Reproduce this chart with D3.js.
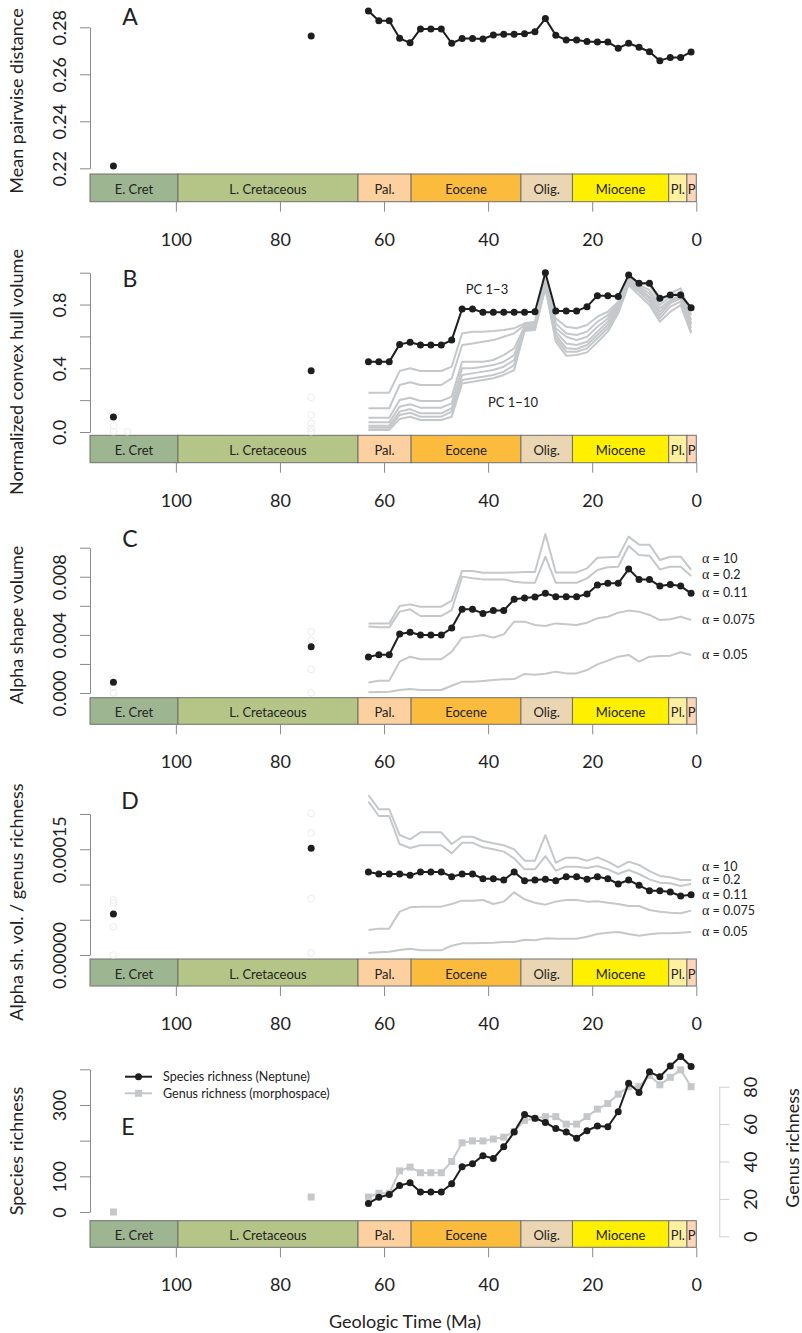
<!DOCTYPE html>
<html><head><meta charset="utf-8">
<script src="https://cdn.jsdelivr.net/npm/d3@7"></script>
<style>
body{margin:0;background:#fff}
text{font-family:Lato,"Open Sans",sans-serif;fill:#222}
</style>
</head><body>
<svg id="c" width="802" height="1333"></svg>
<script>
// ---------- DATA ----------
const ages = [63,61,59,57,55,53,51,49,47,45,43,41,39,37,35,33,31,29,27,25,23,21,19,17,15,13,11,9,7,5,3,1];
const isoAges = [112, 74];

// timescale
const epochNames = ["E. Cret","L. Cretaceous","Pal.","Eocene","Olig.","Miocene","Pl.","P"];
const epochOld   = [116.5, 99.6, 65.0, 54.8, 33.7, 23.8, 5.3, 1.8];
const epochYoung = [99.6, 65.0, 54.8, 33.7, 23.8, 5.3, 1.8, 0];
const epochColors = ["#9db591","#b5c587","#fdd09f","#fbbb3c","#ebd6b3","#fff000","#fff0a0","#fdd5b8"];
const xTicks = [100,80,60,40,20,0];

// A: mean pairwise distance
const mpd = [0.2869,0.2828,0.2828,0.2753,0.2734,0.2793,0.2793,0.2793,0.2732,0.2752,0.2752,0.2750,0.2767,0.2770,0.2770,0.2773,0.2781,0.2837,0.2766,0.2746,0.2746,0.2740,0.2737,0.2737,0.2711,0.2732,0.2715,0.2696,0.2658,0.2672,0.2672,0.2695];
const mpdIso = [0.221, 0.2763];

// B: normalized convex hull volume
const hullPC3 = [0.441,0.441,0.441,0.550,0.563,0.546,0.546,0.546,0.577,0.772,0.772,0.751,0.751,0.751,0.751,0.751,0.755,1.0,0.759,0.759,0.759,0.787,0.856,0.856,0.850,0.986,0.933,0.933,0.839,0.860,0.860,0.780];
const hullPC4 = [0.247,0.247,0.247,0.383,0.400,0.383,0.383,0.383,0.410,0.619,0.630,0.630,0.634,0.640,0.651,0.682,0.692,0.964,0.713,0.661,0.651,0.672,0.724,0.755,0.818,0.985,0.933,0.923,0.818,0.870,0.902,0.734];
const hullPC5 = [0.149,0.149,0.149,0.295,0.312,0.295,0.295,0.295,0.337,0.546,0.556,0.567,0.577,0.598,0.619,0.672,0.682,0.954,0.682,0.619,0.609,0.630,0.692,0.734,0.808,0.975,0.923,0.891,0.797,0.849,0.881,0.703];
const hullPC6 = [0.090,0.090,0.090,0.201,0.215,0.195,0.195,0.195,0.222,0.441,0.441,0.441,0.452,0.483,0.525,0.661,0.672,0.944,0.651,0.598,0.577,0.598,0.661,0.713,0.797,0.964,0.912,0.870,0.776,0.828,0.860,0.682];
const hullPC7 = [0.061,0.061,0.061,0.159,0.174,0.153,0.153,0.153,0.180,0.400,0.400,0.410,0.420,0.441,0.483,0.651,0.661,0.933,0.630,0.556,0.546,0.567,0.630,0.692,0.787,0.954,0.902,0.849,0.755,0.818,0.849,0.672];
const hullPC8 = [0.040,0.040,0.040,0.128,0.144,0.117,0.117,0.117,0.149,0.358,0.368,0.379,0.389,0.410,0.452,0.646,0.655,0.923,0.609,0.525,0.521,0.546,0.609,0.672,0.772,0.944,0.891,0.839,0.734,0.808,0.839,0.651];
const hullPC9 = [0.027,0.027,0.027,0.107,0.121,0.096,0.096,0.096,0.128,0.326,0.337,0.347,0.358,0.379,0.420,0.640,0.651,0.912,0.588,0.504,0.504,0.525,0.588,0.651,0.759,0.933,0.881,0.818,0.713,0.787,0.818,0.630];
const hullPC10 = [0.013,0.013,0.013,0.082,0.096,0.075,0.075,0.075,0.096,0.305,0.316,0.326,0.337,0.358,0.389,0.634,0.640,0.902,0.567,0.479,0.483,0.500,0.563,0.630,0.745,0.923,0.860,0.797,0.692,0.755,0.797,0.619];
const hullIso = [0.094, 0.385];
const hullFaintAges = [112,112,109.3,74,74,74,74,74];
const hullFaintVals = [0.040,0.002,0.002,0.218,0.107,0.055,0.023,0.002];

// C: alpha shape volume
const alphaLabels = ["\u03b1 = 10","\u03b1 = 0.2","\u03b1 = 0.11","\u03b1 = 0.075","\u03b1 = 0.05"];
const volA011 = [0.00248,0.00264,0.00264,0.00406,0.00418,0.00399,0.00399,0.00399,0.00447,0.00576,0.00576,0.00548,0.00567,0.00567,0.00645,0.00654,0.00661,0.00686,0.00663,0.00663,0.00663,0.00681,0.00743,0.00755,0.00755,0.00853,0.00782,0.00782,0.00736,0.00746,0.00736,0.00686];
const volA10 = [0.00479,0.00479,0.00479,0.00599,0.00610,0.00594,0.00594,0.00594,0.00635,0.00840,0.00840,0.00828,0.00828,0.00828,0.00830,0.00833,0.00833,0.01094,0.00830,0.00830,0.00830,0.00858,0.00931,0.00934,0.00938,0.01076,0.01021,0.01021,0.00915,0.00938,0.00938,0.00847];
const volA02 = [0.00457,0.00452,0.00452,0.00560,0.00576,0.00530,0.00530,0.00530,0.00571,0.00801,0.00789,0.00782,0.00782,0.00782,0.00766,0.00759,0.00759,0.00938,0.00759,0.00759,0.00759,0.00789,0.00847,0.00865,0.00869,0.01012,0.00950,0.00945,0.00851,0.00869,0.00869,0.00805];
const volA0075 = [0.00073,0.00085,0.00085,0.00216,0.00250,0.00232,0.00232,0.00232,0.00284,0.00381,0.00388,0.00399,0.00381,0.00404,0.00491,0.00491,0.00468,0.00461,0.00479,0.00473,0.00468,0.00484,0.00514,0.00525,0.00553,0.00567,0.00560,0.00537,0.00502,0.00507,0.00525,0.00502];
const volA005 = [0.00005,0.00007,0.00009,0.00021,0.00028,0.00021,0.00021,0.00021,0.00050,0.00078,0.00078,0.00083,0.00089,0.00094,0.00096,0.00131,0.00126,0.00133,0.00147,0.00135,0.00135,0.00158,0.00197,0.00223,0.00250,0.00262,0.00216,0.00250,0.00255,0.00257,0.00280,0.00262];
const volIso = [0.00074, 0.00319];
const volFaintAges = [112,112,112,74,74,74,74];
const volFaintVals = [0.00101,0.00043,0.0,0.00422,0.00365,0.00163,0.0];

// D: alpha shape volume / genus richness (x 1e-5)
const perA011 = [11.77,11.49,11.49,11.49,11.30,11.77,11.77,11.77,11.11,11.49,11.49,10.83,10.83,10.64,11.77,10.54,10.64,10.73,10.54,11.11,11.11,10.73,11.11,10.83,10.07,10.64,9.88,9.13,9.13,8.94,8.37,8.56];
const perA10 = [22.70,20.66,20.66,17.02,16.41,17.40,17.40,17.40,15.74,16.78,16.78,16.17,15.84,15.56,14.99,13.38,13.38,17.02,13.10,13.81,13.81,13.38,13.85,13.24,12.43,13.24,12.77,11.91,11.21,11.02,10.64,10.64];
const perA02 = [21.75,19.72,19.72,15.74,15.18,15.56,15.56,15.56,14.42,15.93,15.93,15.27,14.99,14.66,13.71,12.15,12.15,14.04,11.96,12.53,12.53,12.34,12.62,12.15,11.49,12.06,11.49,10.73,10.26,10.17,9.79,10.07];
const perA0075 = [3.55,3.74,3.74,6.15,6.76,6.86,6.86,6.86,7.23,7.71,7.71,7.80,7.23,7.57,8.89,7.90,7.42,7.14,7.57,7.80,7.80,7.57,7.61,7.42,7.23,6.95,6.95,6.38,6.15,6.00,5.91,6.29];
const perA005 = [0.28,0.38,0.47,0.71,0.90,0.66,0.66,0.66,1.32,1.65,1.65,1.70,1.75,1.84,1.84,2.17,2.08,2.36,2.32,2.32,2.32,2.60,2.98,3.17,3.26,2.98,2.74,2.93,3.07,3.07,3.17,3.26];
const perIso = [5.82, 15.13];
const perFaintAges = [112,112,112,112,74,74,74,74];
const perFaintVals = [7.8,7.4,4.0,0.0,20.1,17.3,8.0,0.3];

// E: richness
const species = [24,41,49,74,82,56,56,56,79,127,135,158,150,183,224,273,263,251,234,224,207,228,241,239,281,361,335,393,379,409,436,408];
const genus = [21,23,23,35,37,34,34,34,40,50,51,51,52,53,56,62,63,64,64,60,60,64,68,71,76,80,80,86,81,85,89,80];
const genusIso = [13, 21];
const legendLabels = ["Species richness (Neptune)","Genus richness (morphospace)"];

// ---------- DRAW ----------
const svg = d3.select("#c");
const x = d3.scaleLinear().domain([116.5, 0]).range([90, 696.3]);
const axisCol = "#8a8a8a", blackCol = "#1e1e1e", grayCol = "#c5c8ca";

function timescale(top, bottom) {
  const g = svg.append("g");
  epochNames.forEach((n, i) => {
    g.append("rect").attr("x", x(epochOld[i])).attr("y", top)
      .attr("width", x(epochYoung[i]) - x(epochOld[i])).attr("height", bottom - top)
      .attr("fill", epochColors[i]).attr("stroke", "#707070").attr("stroke-width", 1);
    g.append("text").attr("x", (x(epochOld[i]) + x(epochYoung[i])) / 2)
      .attr("y", (top + bottom) / 2 + 1).attr("text-anchor", "middle")
      .attr("dominant-baseline", "central").style("font-size", "13px").text(n);
  });
  const ax = d3.axisBottom(x).tickValues(xTicks).tickSize(10).tickSizeOuter(0).tickPadding(18).tickFormat(d3.format("d"));
  const ga = g.append("g").attr("transform", `translate(0,${bottom})`).call(ax);
  ga.select(".domain").remove();
  ga.selectAll("line").attr("stroke", axisCol);
  ga.selectAll("text").style("font-size", "18px").attr("fill", "#222").attr("dy", "0.9em");
}

function leftAxis(y, ticks, labels, xPos, col) {
  const ax = d3.axisLeft(y).tickValues(ticks).tickSize(10).tickSizeOuter(0).tickFormat((d, i) => labels[i]);
  const g = svg.append("g").attr("transform", `translate(${xPos},0)`).call(ax);
  g.select(".domain").attr("stroke", col);
  g.selectAll("line").attr("stroke", col);
  g.selectAll("text").attr("x", 0).attr("dy", 0).attr("y", 0)
    .attr("transform", "translate(-24,0) rotate(-90)").attr("text-anchor", "middle")
    .style("font-size", "18px").attr("fill", "#222");
}
function rightAxis(y, ticks, labels, xPos, col) {
  const ax = d3.axisRight(y).tickValues(ticks).tickSize(10).tickSizeOuter(0).tickFormat((d, i) => labels[i]);
  const g = svg.append("g").attr("transform", `translate(${xPos},0)`).call(ax);
  g.select(".domain").attr("stroke", col);
  g.selectAll("line").attr("stroke", col);
  g.selectAll("text").attr("x", 0).attr("dy", 0).attr("y", 0)
    .attr("transform", "translate(38,0) rotate(-90)").attr("text-anchor", "middle")
    .style("font-size", "18px").attr("fill", "#222");
}
function yTitle(txt, cx, cy) {
  svg.append("text").attr("transform", `translate(${cx},${cy}) rotate(-90)`)
    .attr("text-anchor", "middle").style("font-size", "18px").text(txt);
}
function letter(txt, cx, by) {
  svg.append("text").attr("x", cx).attr("y", by).attr("text-anchor", "middle")
    .style("font-size", "23px").text(txt);
}
function line(y, vals, col, w) {
  svg.append("path").datum(vals).attr("fill", "none").attr("stroke", col)
    .attr("stroke-width", w).attr("stroke-linejoin", "round")
    .attr("d", d3.line().x((d, i) => x(ages[i])).y(d => y(d)));
}
function dots(y, agesArr, vals, r, fill) {
  svg.append("g").selectAll("circle").data(vals).join("circle")
    .attr("cx", (d, i) => x(agesArr[i])).attr("cy", d => y(d)).attr("r", r).attr("fill", fill);
}
function faint(y, agesArr, vals) {
  svg.append("g").selectAll("circle").data(vals).join("circle")
    .attr("cx", (d, i) => x(agesArr[i])).attr("cy", d => y(d)).attr("r", 3.3)
    .attr("fill", "none").attr("stroke", "#ececec").attr("stroke-width", 1);
}
function alphaText(xp, yp, label) {
  const t = svg.append("text").attr("x", xp).attr("y", yp).attr("dominant-baseline", "central").style("font-size", "12.5px");
  t.append("tspan").style("font-family", "'Liberation Serif',serif").style("font-size", "14px").text(label[0]);
  t.append("tspan").text(label.slice(1));
}

// Panel A
const yA = d3.scaleLinear().domain([0.22, 0.28]).range([168.3, 27.3]);
leftAxis(yA, [0.22,0.24,0.26,0.28], ["0.22","0.24","0.26","0.28"], 90, axisCol);
timescale(174, 201.7);
line(yA, mpd, blackCol, 2);
dots(yA, ages, mpd, 3.5, blackCol);
dots(yA, isoAges, mpdIso, 3.5, blackCol);
yTitle("Mean pairwise distance", 23, 101);
letter("A", 130, 25);

// Panel B
const yB = d3.scaleLinear().domain([0, 1]).range([432, 272.7]);
leftAxis(yB, [0,0.2,0.4,0.6,0.8,1.0], ["0.0","","0.4","","0.8",""], 90, axisCol);
timescale(435.3, 462.7);
faint(yB, hullFaintAges, hullFaintVals);
[hullPC10, hullPC9, hullPC8, hullPC7, hullPC6, hullPC5, hullPC4].forEach(s => line(yB, s, grayCol, 2));
line(yB, hullPC3, blackCol, 2);
dots(yB, ages, hullPC3, 3.5, blackCol);
dots(yB, isoAges, hullIso, 3.5, blackCol);
svg.append("text").attr("x", 487).attr("y", 289).attr("text-anchor", "middle").attr("dominant-baseline", "central").style("font-size", "13px").text("PC 1\u22123");
svg.append("text").attr("x", 513).attr("y", 402).attr("text-anchor", "middle").attr("dominant-baseline", "central").style("font-size", "13px").text("PC 1\u221210");
yTitle("Normalized convex hull volume", 23, 372);
letter("B", 130, 287);

// Panel C
const yC = d3.scaleLinear().domain([0, 0.01]).range([693, 547.7]);
leftAxis(yC, [0,0.002,0.004,0.006,0.008,0.01], ["0.000","","0.004","","0.008",""], 90, axisCol);
timescale(697.7, 724.3);
faint(yC, volFaintAges, volFaintVals);
[volA10, volA02, volA0075, volA005].forEach(s => line(yC, s, grayCol, 2));
line(yC, volA011, blackCol, 2);
dots(yC, ages, volA011, 3.5, blackCol);
dots(yC, isoAges, volIso, 3.5, blackCol);
[557.7, 574.3, 592.3, 618.7, 654.3].forEach((yy, i) => alphaText(702, yy, alphaLabels[i]));
yTitle("Alpha shape volume", 23, 625);
letter("C", 130, 547);

// Panel D
const yD = d3.scaleLinear().domain([0, 20]).range([955, 814]);
leftAxis(yD, [0,5,10,15,20], ["0.00000","","","0.00015",""], 90, axisCol);
timescale(959, 986);
faint(yD, perFaintAges, perFaintVals);
[perA10, perA02, perA0075, perA005].forEach(s => line(yD, s, grayCol, 2));
line(yD, perA011, blackCol, 2);
dots(yD, ages, perA011, 3.5, blackCol);
dots(yD, isoAges, perIso, 3.5, blackCol);
[865.7, 879, 894, 910, 931.3].forEach((yy, i) => alphaText(702, yy, alphaLabels[i]));
yTitle("Alpha sh. vol. / genus richness", 23, 902);
letter("D", 130, 809);

// Panel E
const yE = d3.scaleLinear().domain([0, 400]).range([1212, 1069.3]);
const yG = d3.scaleLinear().domain([0, 80]).range([1236.3, 1086.7]);
leftAxis(yE, [0,100,200,300,400], ["0","100","","300",""], 90, axisCol);
rightAxis(yG, [0,20,40,60,80], ["0","20","40","60","80"], 719.3, "#cfcfcf");
timescale(1220.7, 1247.3);
line(yG, genus, grayCol, 2);
svg.append("g").selectAll("rect").data(genus).join("rect")
  .attr("x", (d, i) => x(ages[i]) - 3.5).attr("y", d => yG(d) - 3.5).attr("width", 7).attr("height", 7).attr("fill", grayCol);
svg.append("g").selectAll("rect").data(genusIso).join("rect")
  .attr("x", (d, i) => x(isoAges[i]) - 3.5).attr("y", d => yG(d) - 3.5).attr("width", 7).attr("height", 7).attr("fill", grayCol);
line(yE, species, blackCol, 2);
dots(yE, ages, species, 3.5, blackCol);
yTitle("Species richness", 23, 1151);
svg.append("text").attr("transform", "translate(799,1148) rotate(-90)").attr("text-anchor", "middle").style("font-size", "18px").text("Genus richness");
letter("E", 128, 1135);
// legend
const lg = svg.append("g");
lg.append("line").attr("x1", 125).attr("x2", 152).attr("y1", 1076.7).attr("y2", 1076.7).attr("stroke", blackCol).attr("stroke-width", 2);
lg.append("circle").attr("cx", 138.5).attr("cy", 1076.7).attr("r", 3.5).attr("fill", blackCol);
lg.append("line").attr("x1", 125).attr("x2", 152).attr("y1", 1093.3).attr("y2", 1093.3).attr("stroke", grayCol).attr("stroke-width", 2);
lg.append("rect").attr("x", 135).attr("y", 1089.8).attr("width", 7).attr("height", 7).attr("fill", grayCol);
lg.append("text").attr("x", 163).attr("y", 1076.7).attr("dominant-baseline", "central").style("font-size", "12.5px").text(legendLabels[0]);
lg.append("text").attr("x", 163).attr("y", 1093.3).attr("dominant-baseline", "central").style("font-size", "12.5px").text(legendLabels[1]);

svg.append("text").attr("x", 405).attr("y", 1328).attr("text-anchor", "middle").style("font-size", "18px").text("Geologic Time (Ma)");
</script>
</body></html>
